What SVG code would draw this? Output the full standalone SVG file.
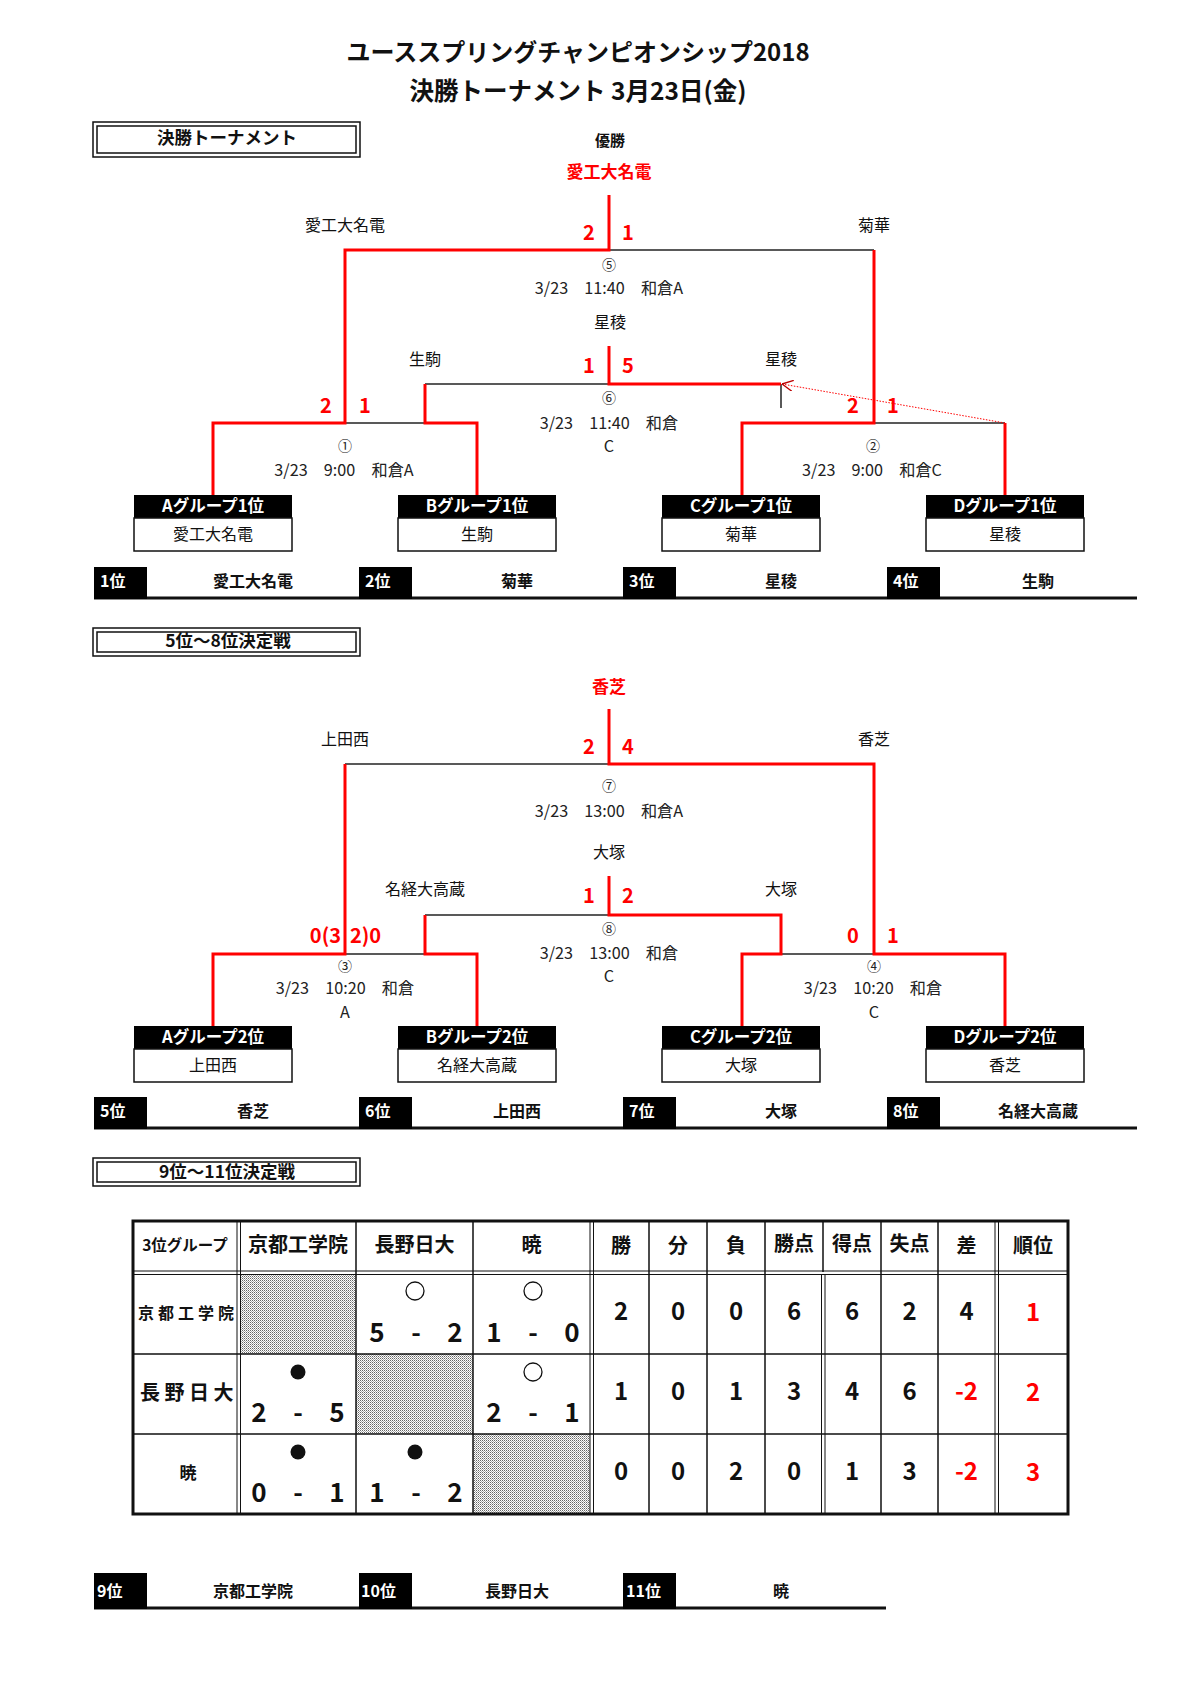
<svg xmlns="http://www.w3.org/2000/svg" width="1190" height="1684" viewBox="0 0 1190 1684">
<style>
text { font-family: "Noto Sans CJK JP", "Noto Sans", sans-serif; fill: #111; }
.m { text-anchor: middle; }
.b { font-weight: 700; }
.red { fill: #ff0000; }
.w { fill: #fff; }
.f16 { font-size: 16px; }
.f15 { font-size: 16px; }
.hl { font-size: 16.5px; }
.info { font-size: 16.2px; fill: #222; text-anchor: middle; }
.cn { font-size: 14px; fill: #222; text-anchor: middle; }
.sc { font-size: 20px; font-weight: 700; fill: #ff0000; text-anchor: middle; }
.rl { stroke: #ff0000; stroke-width: 3; fill: none; }
.bl { stroke: #222; stroke-width: 1.5; fill: none; }
.hdr { fill: #000; }
.body { fill: #fff; stroke: #111; stroke-width: 1.5; }
.sec { fill: #fff; stroke: #111; stroke-width: 1.5; }
.tl { stroke: #111; stroke-width: 1.5; fill: none; }
.tl1 { stroke: #111; stroke-width: 1; fill: none; }
.score { font-size: 26px; font-weight: 700; text-anchor: middle; }
.st { font-size: 24px; font-weight: 700; text-anchor: middle; }
.th { font-size: 20px; font-weight: 700; text-anchor: middle; }
</style>
<defs>
<pattern id="dots" width="2" height="2" patternUnits="userSpaceOnUse">
<rect width="2" height="2" fill="#fff"/>
<rect width="1" height="1" fill="#666"/>
<rect x="1" y="1" width="1" height="1" fill="#aaa"/>
</pattern>
<marker id="chev" viewBox="0 0 10 10" refX="0" refY="5" markerWidth="11" markerHeight="11" markerUnits="userSpaceOnUse" orient="auto">
<path d="M10,0 L0,5 L10,10" fill="none" stroke="#b00" stroke-width="1.2"/>
</marker>
<clipPath id="clip3"><rect x="300" y="960" width="90" height="20"/></clipPath>
<clipPath id="clip4"><rect x="830" y="960" width="90" height="20"/></clipPath>
</defs>
<rect width="1190" height="1684" fill="#fff"/>

<g id="title">
<text x="578" y="61" class="m b" font-size="24">ユーススプリングチャンピオンシップ2018</text>
<text x="578" y="100" class="m b" font-size="24.5">決勝トーナメント 3月23日(金)</text>
</g>

<g id="section-final">
<rect x="93" y="122" width="267" height="35" class="sec"/>
<rect x="97" y="126" width="259" height="27" class="sec"/>
<text x="227" y="144" class="m b" font-size="17.5">決勝トーナメント</text>
</g>
<g id="section-5-8">
<rect x="93" y="628" width="267" height="28" class="sec"/>
<rect x="97" y="632" width="259" height="20" class="sec"/>
<text x="228" y="647" class="m b" font-size="17.5">5位～8位決定戦</text>
</g>
<g id="section-9-11">
<rect x="93" y="1158" width="267" height="28" class="sec"/>
<rect x="97" y="1162" width="259" height="20" class="sec"/>
<text x="227" y="1178" class="m b" font-size="17.5">9位～11位決定戦</text>
</g>

<g id="connectors">
<path class="bl" d="M609 250 H874"/>
<path class="bl" d="M425 384 H609"/>
<path class="bl" d="M345 423 H425"/>
<path class="bl" d="M874 423 H1005"/>
<path class="bl" d="M781 384 V408"/>
<path class="rl" d="M609 195 V250 H345 V423 H213 V495"/>
<path class="rl" d="M874 250 V423 H742 V495"/>
<path class="rl" d="M425 384 V423 H477 V495"/>
<path class="rl" d="M609 346 V384 H781"/>
<path class="rl" d="M1005 423 V495"/>
<line x1="782" y1="384" x2="1005" y2="423" stroke="#ff0000" stroke-width="1" stroke-dasharray="1.5 1.5" marker-start="url(#chev)"/>
<path class="bl" d="M345 764 H609"/>
<path class="bl" d="M425 915 H609"/>
<path class="bl" d="M345 954 H425"/>
<path class="bl" d="M781 954 H874"/>
<path class="rl" d="M609 709 V764 H874 V954 H1005 V1026"/>
<path class="rl" d="M345 764 V954 H213 V1026"/>
<path class="rl" d="M425 915 V954 H477 V1026"/>
<path class="rl" d="M609 876 V915 H781 V954 H742 V1026"/>
</g>

<g id="champion">
<text x="610" y="146" class="m b" font-size="15">優勝</text>
<text x="609" y="178" class="m b red" font-size="17">愛工大名電</text>
</g>
<g id="match5">
<text x="589" y="240" class="sc">2</text>
<text x="628" y="240" class="sc">1</text>
<text x="345" y="231" class="m f16">愛工大名電</text>
<text x="874" y="231" class="m f16">菊華</text>
<text x="609" y="270" class="cn">⑤</text>
<text x="609" y="294" class="info">3/23　11:40　和倉A</text>
</g>
<g id="match6">
<text x="610" y="328" class="m f16">星稜</text>
<text x="589" y="373" class="sc">1</text>
<text x="628" y="373" class="sc">5</text>
<text x="425" y="365" class="m f16">生駒</text>
<text x="781" y="365" class="m f16">星稜</text>
<text x="609" y="403" class="cn">⑥</text>
<text x="609" y="429" class="info">3/23　11:40　和倉</text>
<text x="609" y="452" class="info">C</text>
</g>
<g id="match1">
<text x="326" y="413" class="sc">2</text>
<text x="365" y="413" class="sc">1</text>
<text x="345" y="451" class="cn">①</text>
<text x="344" y="476" class="info">3/23　9:00　和倉A</text>
</g>
<g id="match2">
<text x="853" y="413" class="sc">2</text>
<text x="893" y="413" class="sc">1</text>
<text x="873" y="451" class="cn">②</text>
<text x="872" y="476" class="info">3/23　9:00　和倉C</text>
</g>

<g id="team-A1">
<rect x="134" y="495" width="158" height="23" class="hdr"/>
<rect x="134" y="518" width="158" height="33" class="body"/>
<text x="213" y="512" class="m b w hl">Aグループ1位</text>
<text x="213" y="540" class="m f16">愛工大名電</text>
</g>
<g id="team-B1">
<rect x="398" y="495" width="158" height="23" class="hdr"/>
<rect x="398" y="518" width="158" height="33" class="body"/>
<text x="477" y="512" class="m b w hl">Bグループ1位</text>
<text x="477" y="540" class="m f16">生駒</text>
</g>
<g id="team-C1">
<rect x="662" y="495" width="158" height="23" class="hdr"/>
<rect x="662" y="518" width="158" height="33" class="body"/>
<text x="741" y="512" class="m b w hl">Cグループ1位</text>
<text x="741" y="540" class="m f16">菊華</text>
</g>
<g id="team-D1">
<rect x="926" y="495" width="158" height="23" class="hdr"/>
<rect x="926" y="518" width="158" height="33" class="body"/>
<text x="1005" y="512" class="m b w hl">Dグループ1位</text>
<text x="1005" y="540" class="m f16">星稜</text>
</g>

<g id="ranks-1-4">
<line x1="94" y1="598" x2="1137" y2="598" stroke="#111" stroke-width="3"/>
<rect x="94" y="567" width="53" height="32" fill="#000"/>
<rect x="359" y="567" width="53" height="32" fill="#000"/>
<rect x="623" y="567" width="53" height="32" fill="#000"/>
<rect x="887" y="567" width="53" height="32" fill="#000"/>
<text x="100" y="587" class="b w f16">1位</text>
<text x="365" y="587" class="b w f16">2位</text>
<text x="629" y="587" class="b w f16">3位</text>
<text x="893" y="587" class="b w f16">4位</text>
<text x="253" y="587" class="m b f15">愛工大名電</text>
<text x="517" y="587" class="m b f15">菊華</text>
<text x="781" y="587" class="m b f15">星稜</text>
<text x="1038" y="587" class="m b f15">生駒</text>
</g>

<g id="winner-5th">
<text x="609" y="693" class="m b red" font-size="17">香芝</text>
</g>
<g id="match7">
<text x="589" y="754" class="sc">2</text>
<text x="628" y="754" class="sc">4</text>
<text x="345" y="745" class="m f16">上田西</text>
<text x="874" y="745" class="m f16">香芝</text>
<text x="609" y="791" class="cn">⑦</text>
<text x="609" y="817" class="info">3/23　13:00　和倉A</text>
</g>
<g id="match8">
<text x="609" y="858" class="m f16">大塚</text>
<text x="589" y="903" class="sc">1</text>
<text x="628" y="903" class="sc">2</text>
<text x="425" y="895" class="m f16">名経大高蔵</text>
<text x="781" y="895" class="m f16">大塚</text>
<text x="609" y="934" class="cn">⑧</text>
<text x="609" y="959" class="info">3/23　13:00　和倉</text>
<text x="609" y="982" class="info">C</text>
</g>
<g id="match3">
<text x="341" y="943" class="sc" style="text-anchor:end">0(3</text>
<text x="350" y="943" class="sc" style="text-anchor:start">2)0</text>
<text x="345" y="971" class="cn" clip-path="url(#clip3)">③</text>
<text x="345" y="994" class="info">3/23　10:20　和倉</text>
<text x="345" y="1018" class="info">A</text>
</g>
<g id="match4">
<text x="853" y="943" class="sc">0</text>
<text x="893" y="943" class="sc">1</text>
<text x="874" y="971" class="cn" clip-path="url(#clip4)">④</text>
<text x="873" y="994" class="info">3/23　10:20　和倉</text>
<text x="874" y="1018" class="info">C</text>
</g>

<g id="team-A2">
<rect x="134" y="1026" width="158" height="23" class="hdr"/>
<rect x="134" y="1049" width="158" height="33" class="body"/>
<text x="213" y="1043" class="m b w hl">Aグループ2位</text>
<text x="213" y="1071" class="m f16">上田西</text>
</g>
<g id="team-B2">
<rect x="398" y="1026" width="158" height="23" class="hdr"/>
<rect x="398" y="1049" width="158" height="33" class="body"/>
<text x="477" y="1043" class="m b w hl">Bグループ2位</text>
<text x="477" y="1071" class="m f16">名経大高蔵</text>
</g>
<g id="team-C2">
<rect x="662" y="1026" width="158" height="23" class="hdr"/>
<rect x="662" y="1049" width="158" height="33" class="body"/>
<text x="741" y="1043" class="m b w hl">Cグループ2位</text>
<text x="741" y="1071" class="m f16">大塚</text>
</g>
<g id="team-D2">
<rect x="926" y="1026" width="158" height="23" class="hdr"/>
<rect x="926" y="1049" width="158" height="33" class="body"/>
<text x="1005" y="1043" class="m b w hl">Dグループ2位</text>
<text x="1005" y="1071" class="m f16">香芝</text>
</g>

<g id="ranks-5-8">
<line x1="94" y1="1128" x2="1137" y2="1128" stroke="#111" stroke-width="3"/>
<rect x="94" y="1097" width="53" height="32" fill="#000"/>
<rect x="359" y="1097" width="53" height="32" fill="#000"/>
<rect x="623" y="1097" width="53" height="32" fill="#000"/>
<rect x="887" y="1097" width="53" height="32" fill="#000"/>
<text x="100" y="1117" class="b w f16">5位</text>
<text x="365" y="1117" class="b w f16">6位</text>
<text x="629" y="1117" class="b w f16">7位</text>
<text x="893" y="1117" class="b w f16">8位</text>
<text x="253" y="1117" class="m b f15">香芝</text>
<text x="517" y="1117" class="m b f15">上田西</text>
<text x="781" y="1117" class="m b f15">大塚</text>
<text x="1038" y="1117" class="m b f15">名経大高蔵</text>
</g>

<g id="league-table">
<rect x="240" y="1274" width="116" height="80" fill="url(#dots)"/>
<rect x="356" y="1354" width="117" height="80" fill="url(#dots)"/>
<rect x="473" y="1434" width="117" height="80" fill="url(#dots)"/>
<rect x="133" y="1221" width="935" height="293" fill="none" stroke="#111" stroke-width="3"/>
<path class="tl1" d="M133 1271 H1068 M133 1274.5 H1068"/>
<path class="tl" d="M133 1354 H1068 M133 1434 H1068"/>
<path class="tl1" d="M237 1221 V1514 M240.5 1221 V1514 M590 1221 V1514 M593.5 1221 V1514 M995 1221 V1514 M998.5 1221 V1514"/>
<path class="tl" d="M356 1221 V1514 M473 1221 V1514 M649 1221 V1514 M707 1221 V1514 M765 1221 V1514 M881 1221 V1514 M938 1221 V1514 M823 1221 V1272"/>
<path class="tl1" d="M821.5 1274 V1514 M825 1274 V1514"/>

<text x="185" y="1251" class="m b" font-size="15.5">3位グループ</text>
<text x="298" y="1252" class="th">京都工学院</text>
<text x="414.5" y="1252" class="th">長野日大</text>
<text x="531.5" y="1252" class="th">暁</text>
<text x="621" y="1253" class="th" font-size="22">勝</text>
<text x="678" y="1253" class="th" font-size="22">分</text>
<text x="736" y="1253" class="th" font-size="22">負</text>
<text x="794" y="1251" class="th" font-size="18">勝点</text>
<text x="852" y="1251" class="th" font-size="18">得点</text>
<text x="909.5" y="1251" class="th" font-size="18">失点</text>
<text x="966.5" y="1253" class="th" font-size="22">差</text>
<text x="1033" y="1253" class="th" font-size="22">順位</text>

<text x="138" y="1319" class="b" font-size="16" letter-spacing="4">京都工学院</text>
<text x="140" y="1400" class="b" font-size="20" letter-spacing="4.5">長野日大</text>
<text x="188" y="1479" class="m b" font-size="17">暁</text>

<circle cx="415" cy="1291" r="9" fill="none" stroke="#111" stroke-width="1.3"/>
<circle cx="533" cy="1291" r="9" fill="none" stroke="#111" stroke-width="1.3"/>
<circle cx="533" cy="1372" r="9" fill="none" stroke="#111" stroke-width="1.3"/>
<circle cx="298" cy="1372" r="7.5" fill="#111"/>
<circle cx="298" cy="1452" r="7.5" fill="#111"/>
<circle cx="415" cy="1452" r="7.5" fill="#111"/>

<text x="377" y="1342" class="score">5</text><text x="416" y="1342" class="score">-</text><text x="455" y="1342" class="score">2</text>
<text x="494" y="1342" class="score">1</text><text x="533" y="1342" class="score">-</text><text x="572" y="1342" class="score">0</text>
<text x="259" y="1422" class="score">2</text><text x="298" y="1422" class="score">-</text><text x="337" y="1422" class="score">5</text>
<text x="494" y="1422" class="score">2</text><text x="533" y="1422" class="score">-</text><text x="572" y="1422" class="score">1</text>
<text x="259" y="1502" class="score">0</text><text x="298" y="1502" class="score">-</text><text x="337" y="1502" class="score">1</text>
<text x="377" y="1502" class="score">1</text><text x="416" y="1502" class="score">-</text><text x="455" y="1502" class="score">2</text>

<text x="621" y="1320" class="st">2</text><text x="678" y="1320" class="st">0</text><text x="736" y="1320" class="st">0</text><text x="794" y="1320" class="st">6</text><text x="852" y="1320" class="st">6</text><text x="909.5" y="1320" class="st">2</text><text x="966.5" y="1320" class="st">4</text><text x="1033" y="1321" class="st red" font-size="27">1</text>
<text x="621" y="1400" class="st">1</text><text x="678" y="1400" class="st">0</text><text x="736" y="1400" class="st">1</text><text x="794" y="1400" class="st">3</text><text x="852" y="1400" class="st">4</text><text x="909.5" y="1400" class="st">6</text><text x="966.5" y="1400" class="st red">-2</text><text x="1033" y="1401" class="st red" font-size="27">2</text>
<text x="621" y="1480" class="st">0</text><text x="678" y="1480" class="st">0</text><text x="736" y="1480" class="st">2</text><text x="794" y="1480" class="st">0</text><text x="852" y="1480" class="st">1</text><text x="909.5" y="1480" class="st">3</text><text x="966.5" y="1480" class="st red">-2</text><text x="1033" y="1481" class="st red" font-size="27">3</text>
</g>

<g id="ranks-9-11">
<line x1="94" y1="1608" x2="886" y2="1608" stroke="#111" stroke-width="3"/>
<rect x="94" y="1573" width="53" height="36" fill="#000"/>
<rect x="359" y="1573" width="53" height="36" fill="#000"/>
<rect x="623" y="1573" width="53" height="36" fill="#000"/>
<text x="97" y="1597" class="b w f16">9位</text>
<text x="361" y="1597" class="b w f16">10位</text>
<text x="626" y="1597" class="b w f16">11位</text>
<text x="253" y="1597" class="m b f15">京都工学院</text>
<text x="517" y="1597" class="m b f15">長野日大</text>
<text x="781" y="1597" class="m b f15">暁</text>
</g>
</svg>
